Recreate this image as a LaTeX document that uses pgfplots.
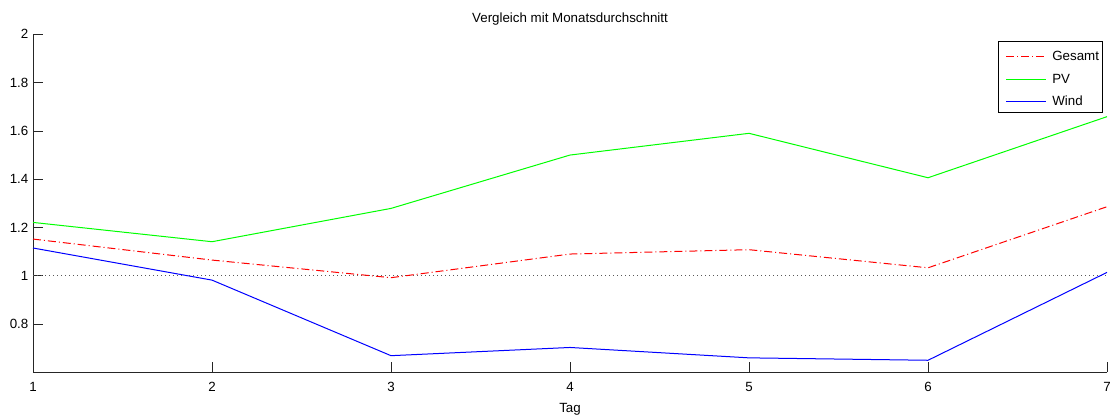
\documentclass[border=0pt]{standalone}
\usepackage{fontspec}
\setmainfont{Liberation Sans}
\usepackage{pgfplots}
\pgfplotsset{compat=1.18}
\begin{document}
\begin{tikzpicture}
\useasboundingbox (0,0) rectangle (837.75pt,314.25pt);
\begin{axis}[
  at={(24.75pt,35pt)}, anchor=south west,
  scale only axis, width=805.5pt, height=253.5pt,
  xmin=1, xmax=7, ymin=0.6, ymax=2,
  axis x line*=bottom, axis y line*=left,
  axis line style={black!85, line width=0.6pt},
  tick align=inside, major tick length=7.5pt,
  tick style={black!85, line width=0.6pt},
  xtick={1,2,3,4,5,6,7},
  ytick={0.8,1,1.2,1.4,1.6,1.8,2},
  /pgf/number format/assume math mode=true,
  tick label style={font=\fontsize{10}{12}\selectfont},
  xticklabel style={anchor=base, yshift=-14.4pt},
  title={Vergleich mit Monatsdurchschnitt},
  title style={at={(0.5,1)}, anchor=base, yshift=2.7pt, font=\fontsize{10}{12}\selectfont},
  xlabel={Tag},
  xlabel style={at={(0.5,0)}, anchor=base, yshift=-30pt, font=\fontsize{10}{12}\selectfont},
  clip=false,
]
\addplot[gray!70!black, line width=0.6pt, dash pattern=on 0.75pt off 2.25pt] coordinates {(1,1) (7,1)};
\addplot[red, line width=0.75pt, dash pattern=on 6pt off 2.25pt on 0.75pt off 2.25pt] coordinates {
(1,1.152) (2,1.065) (3,0.992) (4,1.090) (5,1.108) (6,1.033) (7,1.286)};
\addplot[green, line width=0.75pt] coordinates {
(1,1.221) (2,1.141) (3,1.279) (4,1.500) (5,1.590) (6,1.406) (7,1.659)};
\addplot[blue, line width=0.75pt] coordinates {
(1,1.115) (2,0.982) (3,0.669) (4,0.703) (5,0.660) (6,0.650) (7,1.014)};
% legend
\draw[black, line width=0.6pt, fill=white] (rel axis cs:0.8985,0.7701) rectangle (rel axis cs:0.9953,0.9802);
\draw[red, line width=0.75pt, dash pattern=on 6pt off 2.25pt on 0.75pt off 2.25pt] (rel axis cs:0.9060,0.9358) -- (rel axis cs:0.9432,0.9358);
\draw[green, line width=0.75pt] (rel axis cs:0.9060,0.8669) -- (rel axis cs:0.9432,0.8669);
\draw[blue, line width=0.75pt] (rel axis cs:0.9060,0.8027) -- (rel axis cs:0.9432,0.8027);
\node[anchor=west, inner sep=0pt, font=\fontsize{10}{12}\selectfont] at (rel axis cs:0.9488,0.9358) {Gesamt};
\node[anchor=west, inner sep=0pt, font=\fontsize{10}{12}\selectfont] at (rel axis cs:0.9488,0.8669) {PV};
\node[anchor=west, inner sep=0pt, font=\fontsize{10}{12}\selectfont] at (rel axis cs:0.9488,0.8027) {Wind};
\end{axis}
\end{tikzpicture}
\end{document}
